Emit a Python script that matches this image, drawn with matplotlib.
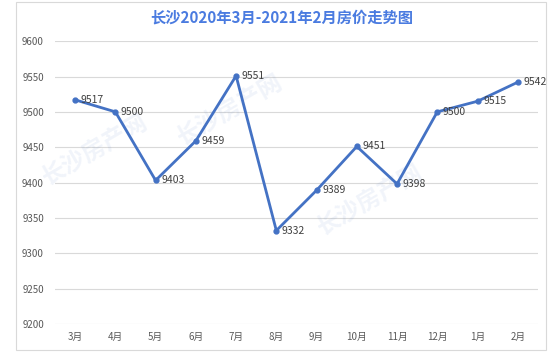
import matplotlib
matplotlib.use('Agg')
import matplotlib.pyplot as plt
from matplotlib.patches import Rectangle

plt.rcParams['font.family'] = ['Noto Sans CJK SC', 'DejaVu Sans']

# 数据
months = ['3月', '4月', '5月', '6月', '7月', '8月', '9月', '10月', '11月', '12月', '1月', '2月']
prices = [9517, 9500, 9403, 9459, 9551, 9332, 9389, 9451, 9398, 9500, 9515, 9542]
y_ticks = [9200, 9250, 9300, 9350, 9400, 9450, 9500, 9550, 9600]

line_color = '#4472C4'

fig = plt.figure(figsize=(5.5, 3.52), dpi=100)
ax = fig.add_axes([0.1, 0.08, 0.878, 0.803])

# 外框
fig.patches.append(Rectangle((16 / 550, 2 / 352), 530 / 550, 348 / 352, transform=fig.transFigure,
                             fill=False, edgecolor='#d9d9d9', lw=0.8))

x = list(range(len(months)))
ax.plot(x, prices, color=line_color, lw=2, marker='o', ms=3.5, zorder=3)

# 数据标签
for xi, v in zip(x, prices):
    ax.annotate(str(v), (xi, v), xytext=(4, 0), textcoords='offset points',
                ha='left', va='center', fontsize=7.5, color='#404040', zorder=4)

ax.set_xlim(-0.5, len(months) - 0.5)
ax.set_ylim(9200, 9600)
ax.set_yticks(y_ticks)
ax.set_xticks(x)
ax.set_xticklabels(months)
ax.tick_params(axis='both', length=0, labelsize=7, colors='#595959')
ax.tick_params(axis='y', pad=8)
ax.tick_params(axis='x', pad=6)
ax.grid(axis='y', color='#d9d9d9', lw=0.8)
ax.set_axisbelow(True)
for s in ax.spines.values():
    s.set_visible(False)

# 水印
for wx, wy in [(95, 150), (230, 110), (370, 200)]:
    fig.text(wx / 550, 1 - wy / 352, '长沙房产网', fontsize=17, color='#4472C4', alpha=0.08,
             rotation=30, ha='center', va='center', fontweight='bold')

fig.text(282 / 550, 1 - 18 / 352, '长沙2020年3月-2021年2月房价走势图', ha='center', va='center',
         fontsize=11, fontweight='bold', color='#4a7be0')

fig.savefig('out.png', dpi=100)
